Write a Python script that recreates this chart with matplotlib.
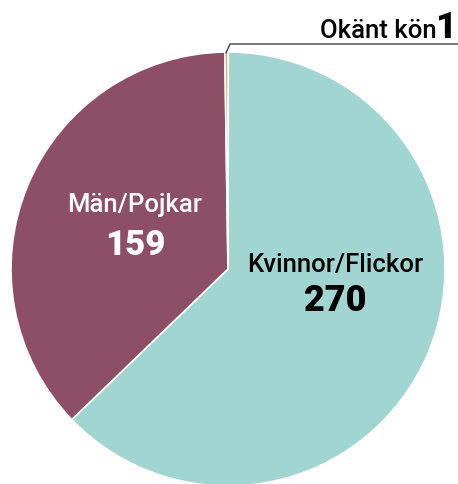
import matplotlib.pyplot as plt

# Data
labels = ["Kvinnor/Flickor", "Män/Pojkar", "Okänt kön"]
values = [270, 159, 1]
colors = ["#a0d5d1", "#8d4f66", "#e6a56a"]

plt.rcParams['font.family'] = ['Roboto', 'DejaVu Sans']

W, H = 458, 485
fig = plt.figure(figsize=(W / 100, H / 100), dpi=100)
ax = fig.add_axes([0, 0, 1, 1])

cx, cy, r = 228, H - 270, 217
wedges, _ = ax.pie(values, colors=colors, startangle=90, counterclock=False,
                   center=(cx, cy), radius=r, frame=True,
                   wedgeprops=dict(edgecolor='white', linewidth=1.2))
ax.set_xlim(0, W)
ax.set_ylim(0, H)
ax.set_aspect('equal')
ax.axis('off')

# Labels inside the slices
ax.text(135, H - 205, labels[1], color='white', fontsize=18.5,
        fontweight='medium', ha='center', va='center')
ax.text(135, H - 246, str(values[1]), color='white', fontsize=25,
        fontweight='black', ha='center', va='center')
ax.text(335, H - 265, labels[0], color='black', fontsize=18.5,
        fontweight='medium', ha='center', va='center')
ax.text(335, H - 301, str(values[0]), color='black', fontsize=26,
        fontweight='black', ha='center', va='center')

# Callout for the tiny slice
ax.plot([226, 230, W], [H - 54, H - 45, H - 45], color='#444444', lw=1)
ax.text(437, H - 38, labels[2], color='black', fontsize=18.5,
        fontweight='medium', ha='right', va='baseline')
ax.text(457, H - 38, str(values[2]), color='black', fontsize=26,
        fontweight='black', ha='right', va='baseline')

fig.savefig('out.png', dpi=100)
